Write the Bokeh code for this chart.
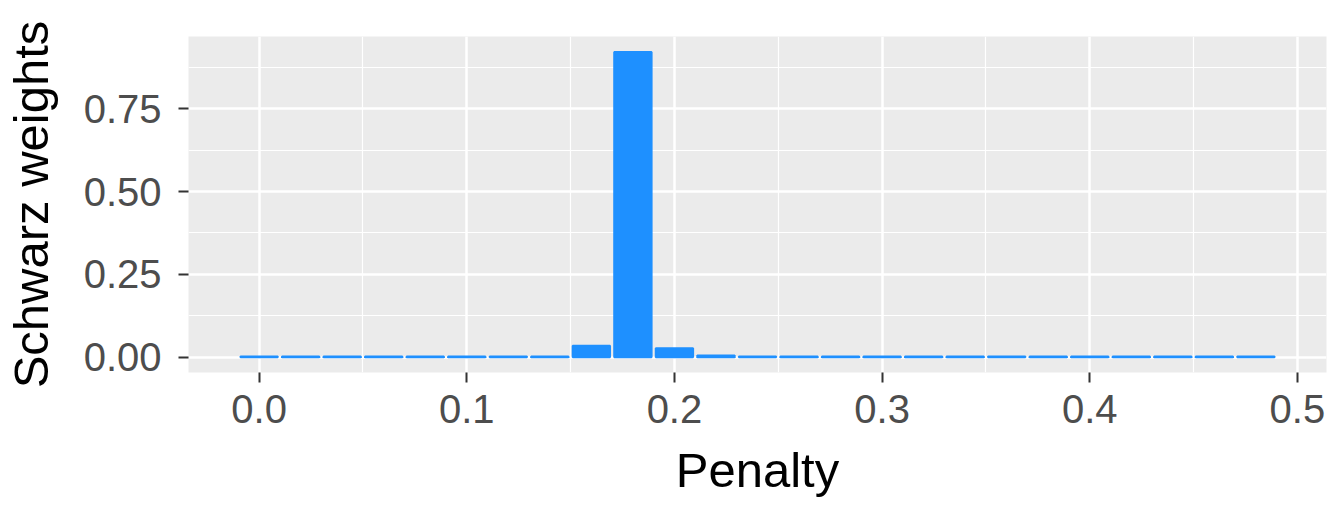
from bokeh.plotting import figure
from bokeh.models import Range1d, FixedTicker, ColumnDataSource
from bokeh.embed import file_html
from bokeh.resources import INLINE

# Data
penalty = [0.00, 0.02, 0.04, 0.06, 0.08, 0.10, 0.12, 0.14, 0.16, 0.18, 0.20, 0.22,
           0.24, 0.26, 0.28, 0.30, 0.32, 0.34, 0.36, 0.38, 0.40, 0.42, 0.44, 0.46, 0.48]
weights = [0.002, 0.002, 0.002, 0.002, 0.002, 0.002, 0.002, 0.002, 0.035, 0.921, 0.027, 0.005,
           0.002, 0.002, 0.002, 0.002, 0.002, 0.002, 0.002, 0.002, 0.002, 0.002, 0.002, 0.002, 0.002]
x_ticks = [0.0, 0.1, 0.2, 0.3, 0.4, 0.5]
y_ticks = [0.0, 0.25, 0.5, 0.75]
y_tick_labels = {0.0: "0.00", 0.25: "0.25", 0.5: "0.50", 0.75: "0.75"}
x_tick_labels = {0.0: "0.0", 0.1: "0.1", 0.2: "0.2", 0.3: "0.3", 0.4: "0.4", 0.5: "0.5"}

src = ColumnDataSource(dict(x=penalty, top=weights))

p = figure(output_backend="svg", toolbar_location=None,
           frame_width=1138, frame_height=336,
           x_range=Range1d(-0.034, 0.514), y_range=Range1d(-0.046, 0.968),
           min_border_left=188, min_border_top=36, min_border_right=8, min_border_bottom=124)
p.background_fill_color = "#EBEBEB"
p.border_fill_color = "white"
p.outline_line_color = None

p.vbar(x="x", top="top", bottom=0, width=0.018, source=src,
       fill_color="#1E90FF", line_color="#1E90FF", line_width=2)

font = "Liberation Sans"
for ax in (p.xaxis[0], p.yaxis[0]):
    ax.axis_line_color = None
    ax.major_tick_line_color = "#333333"
    ax.major_tick_line_width = 2
    ax.major_tick_out = 10
    ax.major_tick_in = 0
    ax.minor_tick_line_color = None
    ax.major_label_text_font = font
    ax.major_label_text_font_size = "40px"
    ax.major_label_text_color = "#4D4D4D"
    ax.axis_label_text_font = font
    ax.axis_label_text_font_size = "49px"
    ax.axis_label_text_font_style = "normal"
    ax.axis_label_text_color = "black"

p.xaxis.ticker = FixedTicker(ticks=x_ticks, minor_ticks=[0.05, 0.15, 0.25, 0.35, 0.45])
p.yaxis.ticker = FixedTicker(ticks=y_ticks, minor_ticks=[0.125, 0.375, 0.625, 0.875])
p.xaxis.major_label_overrides = x_tick_labels
p.yaxis.major_label_overrides = y_tick_labels
p.xaxis.axis_label = "Penalty"
p.yaxis.axis_label = "Schwarz weights"
p.xaxis.major_label_standoff = 12
p.yaxis.major_label_standoff = 17
p.xaxis.axis_label_standoff = 17
p.yaxis.axis_label_standoff = 23

for g in (p.xgrid[0], p.ygrid[0]):
    g.grid_line_color = "white"
    g.grid_line_width = 2.5
    g.minor_grid_line_color = "white"
    g.minor_grid_line_width = 1.2

open("out.html", "w").write(file_html(p, INLINE))
